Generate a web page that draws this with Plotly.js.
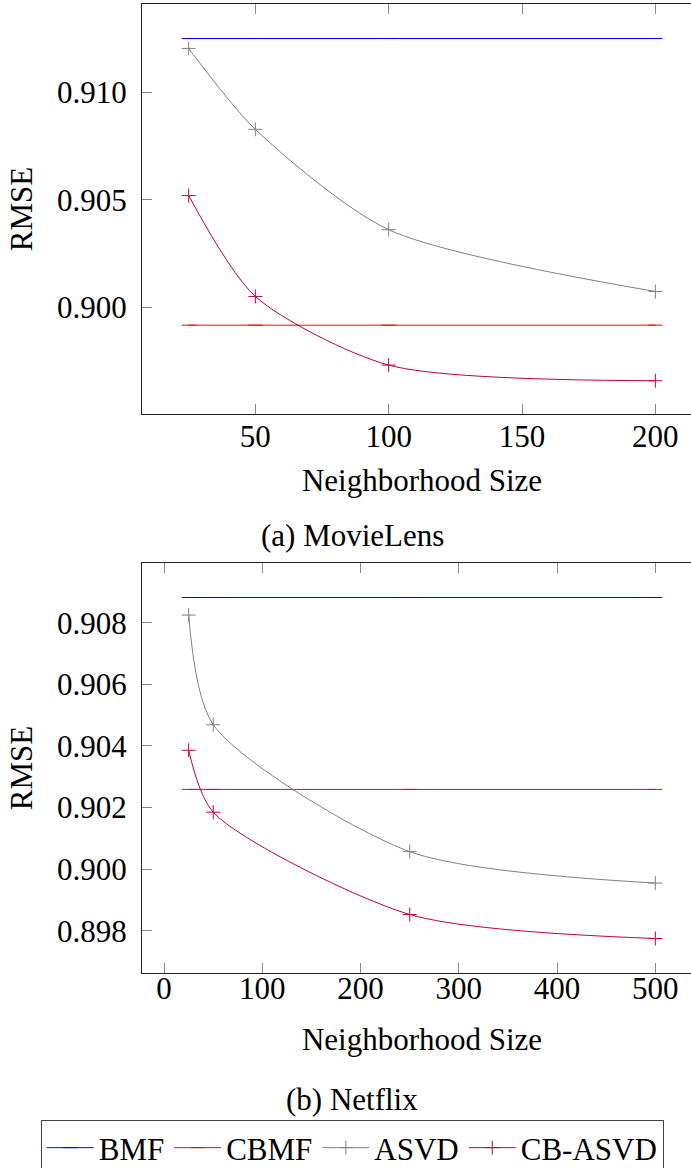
<!DOCTYPE html>
<html>
<head>
<meta charset="utf-8">
<script src="https://cdn.plot.ly/plotly-3.0.1.min.js"></script>
<style>html,body{margin:0;padding:0;overflow:hidden;background:#fff}</style>
</head>
<body>
<div id="chart" style="width:720px;height:1200px"></div>
<script>
// ---- Data: (a) MovieLens ----
const mlSizes   = [25, 50, 100, 200];
const mlBMF     = [0.91252, 0.91252, 0.91252, 0.91252];
const mlCBMF    = [0.89916, 0.89916, 0.89916, 0.89916];
const mlASVD    = [0.91206, 0.90829, 0.90361, 0.90073];
const mlCBASVD  = [0.90520, 0.90050, 0.89730, 0.89657];

// ---- Data: (b) Netflix ----
const nfSizes   = [25, 50, 250, 500];
const nfBMF     = [0.90882, 0.90882, 0.90882, 0.90882];
const nfCBMF    = [0.90259, 0.90259, 0.90259, 0.90259];
const nfASVD    = [0.90825, 0.90469, 0.90057, 0.89955];
const nfCBASVD  = [0.90386, 0.90185, 0.89853, 0.89775];

const seriesNames = ['BMF', 'CBMF', 'ASVD', 'CB-ASVD'];
const captions = ['(a) MovieLens', '(b) Netflix'];
const xTitle = 'Neighborhood Size';
const yTitle = 'RMSE';

const colors = ['#0000ff', '#ff0000', '#808080', '#bf0040'];
const symbols = ['line-ew', 'line-ew', 'cross-thin-open', 'cross-thin-open'];
const FONT = 'Liberation Serif, Times New Roman, serif';
const FS = 31;

function makeTraces(xs, ys, xa, ya, showLegend) {
  return ys.map((y, i) => ({
    type: 'scatter',
    mode: 'lines+markers',
    x: xs, y: y,
    xaxis: xa, yaxis: ya,
    name: seriesNames[i],
    showlegend: showLegend,
    line: {color: colors[i], width: 1, shape: i >= 2 ? 'spline' : 'linear', smoothing: 0.75},
    marker: {symbol: symbols[i], size: 10, color: colors[i], line: {color: colors[i], width: 1}}
  }));
}

const traces = [
  ...makeTraces(mlSizes, [mlBMF, mlCBMF, mlASVD, mlCBASVD], 'x', 'y', true),
  ...makeTraces(nfSizes, [nfBMF, nfCBMF, nfASVD, nfCBASVD], 'x2', 'y2', false)
];

const W = 720, H = 1200, ML = 142, MR = 18, MB = 90;
const PW = W - ML - MR, PH = H - MB;   // plot area size in px
const py = p => 1 - p / PH;            // pixel row -> paper y
const px = p => (p - ML) / PW;         // pixel col -> paper x

const axisCommon = {
  showgrid: false, zeroline: false,
  showline: true, linecolor: '#222', linewidth: 1,
  mirror: 'ticks',
  ticks: 'inside', ticklen: 10, tickwidth: 1, tickcolor: '#888',
  tickfont: {family: FONT, size: FS, color: '#000'},
};

const layout = {
  width: W, height: H,
  margin: {l: ML, r: MR, t: 0, b: MB},
  paper_bgcolor: '#fff', plot_bgcolor: '#fff',
  font: {family: FONT, size: FS, color: '#000'},
  showlegend: true,
  xaxis: Object.assign({}, axisCommon, {
    domain: [0, 1], anchor: 'y', range: [7.5, 217.5], dtick: 50, tick0: 0,
    ticklabelstandoff: -5,
    title: {text: xTitle, font: {family: FONT, size: FS}, standoff: 16}
  }),
  yaxis: Object.assign({}, axisCommon, {
    domain: [py(414), py(4)], anchor: 'x', range: [0.89502, 0.91413],
    dtick: 0.005, tick0: 0.9, tickformat: '.3f',
    ticklabelstandoff: 8,
    title: {text: yTitle, font: {family: FONT, size: FS}, standoff: 15}
  }),
  xaxis2: Object.assign({}, axisCommon, {
    domain: [0, 1], anchor: 'y2', range: [-22.5, 547.5], dtick: 100, tick0: 0,
    ticklabelstandoff: -12,
    title: {text: xTitle, font: {family: FONT, size: FS}, standoff: 23}
  }),
  yaxis2: Object.assign({}, axisCommon, {
    domain: [py(972.7), py(563.3)], anchor: 'x2', range: [0.89664, 0.90993],
    dtick: 0.002, tick0: 0.9, tickformat: '.3f',
    ticklabelstandoff: 8,
    title: {text: yTitle, font: {family: FONT, size: FS}, standoff: 15}
  }),
  legend: {
    orientation: 'h',
    x: px(40.7), xanchor: 'left',
    y: py(1120), yanchor: 'top',
    bordercolor: '#444', borderwidth: 1,
    bgcolor: '#fff',
    font: {family: FONT, size: FS, color: '#000'},
    itemwidth: 47,
    tracegroupgap: 0
  },
  annotations: [
    {text: captions[0], xref: 'paper', yref: 'paper', x: px(352), y: py(535.5),
     xanchor: 'center', yanchor: 'middle', showarrow: false, font: {family: FONT, size: FS, color: '#000'}},
    {text: captions[1], xref: 'paper', yref: 'paper', x: px(352), y: py(1099.5),
     xanchor: 'center', yanchor: 'middle', showarrow: false, font: {family: FONT, size: FS, color: '#000'}}
  ]
};

Plotly.newPlot('chart', traces, layout, {displayModeBar: false, staticPlot: true});
</script>
</body>
</html>
